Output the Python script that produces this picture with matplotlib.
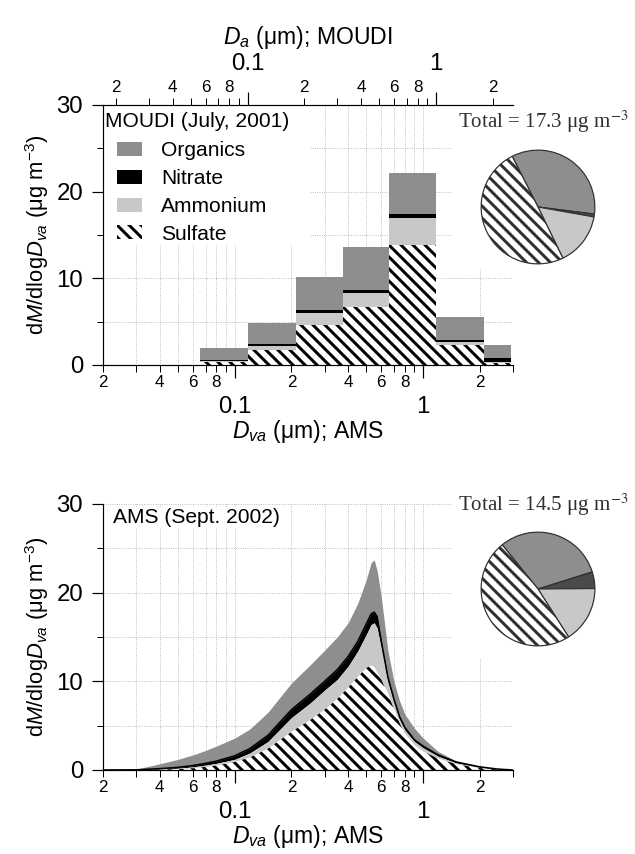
import numpy as np
import matplotlib
matplotlib.use("Agg")
import matplotlib.pyplot as plt
from matplotlib.patches import Patch, Rectangle
from matplotlib.ticker import FixedLocator, FuncFormatter

plt.rcParams['font.family'] = ['Liberation Sans', 'DejaVu Sans']
plt.rcParams['mathtext.fontset'] = 'custom'
plt.rcParams['mathtext.rm'] = 'Liberation Sans'
plt.rcParams['mathtext.it'] = 'Liberation Sans:italic'
plt.rcParams['hatch.linewidth'] = 3.0
plt.rcParams['axes.linewidth'] = 1.2

species = ['Organics', 'Nitrate', 'Ammonium', 'Sulfate']
c_org = '#8e8e8e'
c_nit = 'black'
c_amm = '#c8c8c8'
c_pie_nit = '#4a4a4a'
hatch_sulf = '\\\\'

# MOUDI stage cut sizes (Da, um), shifted to Dva with a constant factor
moudi_cuts_da = [0.056, 0.1, 0.18, 0.32, 0.56, 1.0, 1.8, 2.5]
da_to_dva = 1.17
moudi_sulfate = [0.3, 1.7, 4.6, 6.7, 13.8, 2.3, 0.2]
moudi_ammonium = [0.2, 0.5, 1.4, 1.6, 3.2, 0.3, 0.15]
moudi_nitrate = [0.05, 0.2, 0.35, 0.3, 0.4, 0.3, 0.45]
moudi_organics = [1.45, 2.4, 3.85, 5.0, 4.8, 2.6, 1.5]
moudi_pie = [34.5, 0.8, 15.0, 49.7]   # organics, nitrate, ammonium, sulfate (%)
moudi_total = 17.3

# AMS mass distributions, dM/dlogDva (ug m-3)
ams_dva = [0.02, 0.03, 0.04, 0.05, 0.06, 0.07, 0.08, 0.10, 0.12, 0.15, 0.20,
           0.25, 0.30, 0.35, 0.40, 0.45, 0.50, 0.53, 0.55, 0.57, 0.60, 0.65,
           0.70, 0.75, 0.80, 0.90, 1.00, 1.20, 1.50, 2.00, 2.50, 3.00]
ams_sulfate = [0, 0, 0.05, 0.1, 0.2, 0.35, 0.5, 0.9, 1.4, 2.4, 4.3,
               5.6, 6.8, 8.0, 9.3, 10.5, 11.5, 11.8, 11.6, 11.0, 10.2, 8.6,
               6.9, 5.3, 4.1, 2.8, 2.1, 1.3, 0.65, 0.22, 0.05, 0]
ams_ammonium = [0, 0.01, 0.05, 0.1, 0.15, 0.2, 0.25, 0.3, 0.5, 0.8, 1.6,
                1.9, 2.2, 2.2, 2.4, 2.9, 3.8, 4.6, 5.0, 5.0, 3.6, 1.4,
                0.7, 0.4, 0.4, 0.4, 0.4, 0.25, 0.15, 0.08, 0.02, 0]
ams_nitrate = [0, 0.01, 0.05, 0.1, 0.15, 0.2, 0.25, 0.4, 0.5, 0.7, 0.9,
               1.0, 1.0, 1.1, 1.1, 1.1, 1.2, 1.2, 1.2, 1.3, 0.7, 0.5,
               0.4, 0.3, 0.3, 0.2, 0.2, 0.15, 0.1, 0.05, 0.03, 0]
ams_organics = [0, 0.08, 0.55, 0.9, 1.2, 1.45, 1.7, 2.0, 2.2, 2.6, 3.0,
                3.3, 3.5, 3.7, 3.8, 4.3, 5.0, 5.8, 5.9, 5.2, 5.0, 3.0,
                2.0, 1.8, 1.5, 1.3, 0.9, 0.4, 0.1, 0.05, 0, 0]
ams_pie = [31.0, 4.7, 16.1, 48.2]
ams_total = 14.5

W, H = 635, 854
fig = plt.figure(figsize=(W / 72, H / 72), dpi=72)


def px_axes(left, top, right, bottom):
    return fig.add_axes([left / W, 1 - bottom / H, (right - left) / W, (bottom - top) / H])


def minor_label(v, pos=None):
    d = int(round(v / 10 ** np.floor(np.log10(v) + 1e-9)))
    return str(d) if d in (2, 4, 6, 8) else ''


def log_ticks(ax_x, lo, hi):
    minors = [k * 10.0 ** e for e in (-2, -1, 0) for k in range(2, 10)]
    minors = [m for m in minors if lo * 0.999 <= m <= hi * 1.001]
    ax_x.set_major_locator(FixedLocator([0.1, 1]))
    ax_x.set_major_formatter(FuncFormatter(lambda v, p: f'{v:g}'))
    ax_x.set_minor_locator(FixedLocator(minors))
    ax_x.set_minor_formatter(FuncFormatter(minor_label))


def style_panel(ax):
    ax.set_xscale('log')
    ax.set_xlim(0.02, 3.0)
    ax.set_ylim(0, 30)
    log_ticks(ax.xaxis, 0.02, 3.0)
    ax.set_yticks([0, 10, 20, 30])
    ax.set_yticks([5, 15, 25], minor=True)
    ax.set_axisbelow(True)
    ax.grid(True, which='both', color='#b5b5b5', linestyle=(0, (1, 1.5)), linewidth=0.9)
    for s in ('top', 'right'):
        ax.spines[s].set_visible(False)
    ax.tick_params(axis='x', which='major', direction='out', length=13, width=1.2, labelsize=24, pad=18)
    ax.tick_params(axis='x', which='minor', direction='out', length=7, width=1.0, labelsize=17, pad=3)
    ax.tick_params(axis='y', which='major', direction='out', length=11, width=1.2, labelsize=24, pad=9)
    ax.tick_params(axis='y', which='minor', direction='out', length=6, width=1.0)
    ax.set_xlabel(r'$D_{va}$ (μm); AMS', fontsize=23, labelpad=0)
    ax.set_ylabel(r'd$M$/dlog$D_{va}$ (μg m$^{-3}$)', fontsize=22, labelpad=5)


def draw_pie(cx, cy, values, start):
    r = 58
    pax = px_axes(cx - r, cy - r, cx + r, cy + r)
    pax.pie(values, colors=[c_org, c_pie_nit, c_amm, 'white'], startangle=start,
            counterclock=False, hatch=['', '', '', hatch_sulf],
            wedgeprops=dict(edgecolor='#303030', linewidth=1.2))
    pax.set_xlim(-1.02, 1.02)
    pax.set_ylim(-1.02, 1.02)
    pax.set_aspect('equal')


def mask(ax, x0, y0, x1, y1):
    # opaque white block that hides the grid behind annotations
    ax.add_patch(Rectangle((x0, y0), x1 - x0, y1 - y0, transform=ax.transAxes,
                           facecolor='white', edgecolor='none', zorder=1))


# ---- top panel: MOUDI stages
ax1 = px_axes(103, 105, 513, 365)
style_panel(ax1)

left = np.array(moudi_cuts_da[:-1]) * da_to_dva
right = np.array(moudi_cuts_da[1:]) * da_to_dva
width = right - left
b = np.zeros(len(left))
ax1.bar(left, moudi_sulfate, width, bottom=b, align='edge', facecolor='white',
        edgecolor='black', hatch=hatch_sulf, linewidth=0, zorder=2)
b += moudi_sulfate
ax1.bar(left, moudi_ammonium, width, bottom=b, align='edge', color=c_amm, linewidth=0, zorder=2)
b += moudi_ammonium
ax1.bar(left, moudi_nitrate, width, bottom=b, align='edge', color=c_nit, linewidth=0, zorder=2)
b += moudi_nitrate
ax1.bar(left, moudi_organics, width, bottom=b, align='edge', color=c_org, linewidth=0, zorder=2)

mask(ax1, 0, 14 / 30, 0.505, 1)
mask(ax1, 0.851, 0.37, 1, 1)

ax1.text(0.005, 0.935, 'MOUDI (July, 2001)', transform=ax1.transAxes, fontsize=21,
         ha='left', va='center', zorder=3)
handles = [Patch(facecolor=c_org, linewidth=0), Patch(facecolor=c_nit, linewidth=0),
           Patch(facecolor=c_amm, linewidth=0),
           Patch(facecolor='white', edgecolor='black', hatch=hatch_sulf, linewidth=0)]
ax1.legend(handles, species, loc='upper left', bbox_to_anchor=(0.035, 0.86),
           frameon=False, fontsize=21, borderpad=0, borderaxespad=0,
           handlelength=1.15, handleheight=0.65, handletextpad=0.95, labelspacing=0.42)

top = ax1.secondary_xaxis('top', functions=(lambda d: d / da_to_dva, lambda d: d * da_to_dva))
top.set_zorder(5)
log_ticks(top.xaxis, 0.02 / da_to_dva, 3.0 / da_to_dva)
top.tick_params(axis='x', which='major', direction='out', length=13, width=1.2, labelsize=24, pad=17)
top.tick_params(axis='x', which='minor', direction='out', length=7, width=1.0, labelsize=17, pad=3)
top.spines['top'].set_linewidth(1.2)
top.set_xlabel(r'$D_a$ (μm); MOUDI', fontsize=23, labelpad=9)

fig.text(543 / W, 1 - 122 / H, f'Total = {moudi_total} μg m$^{{-3}}$', ha='center', va='center',
         family='Liberation Serif', math_fontfamily='stix', fontsize=21, color='#303030')
draw_pie(538, 207, moudi_pie, 117)

# ---- bottom panel: AMS
ax2 = px_axes(103, 504, 513, 770)
style_panel(ax2)

s = np.array(ams_sulfate)
a = s + np.array(ams_ammonium)
n = a + np.array(ams_nitrate)
t = n + np.array(ams_organics)
ax2.fill_between(ams_dva, n, t, color=c_org, linewidth=0, zorder=2)
ax2.fill_between(ams_dva, a, n, color=c_nit, linewidth=0, zorder=2)
ax2.fill_between(ams_dva, s, a, color=c_amm, linewidth=0, zorder=2)
ax2.fill_between(ams_dva, 0, s, facecolor='white', edgecolor='black', hatch=hatch_sulf,
                 linewidth=0, zorder=2)
ax2.plot(ams_dva, n, color='black', linewidth=1.6, zorder=3)

mask(ax2, 0.851, 12.5 / 30, 1, 1)
ax2.text(0.025, 0.95, 'AMS (Sept. 2002)', transform=ax2.transAxes, fontsize=21,
         ha='left', va='center', zorder=3,
         bbox=dict(facecolor='white', edgecolor='none', pad=1))

fig.text(543 / W, 1 - 505 / H, f'Total = {ams_total} μg m$^{{-3}}$', ha='center', va='center',
         family='Liberation Serif', math_fontfamily='stix', fontsize=21, color='#303030')
draw_pie(538, 589, ams_pie, 129)

fig.savefig('out.png', dpi=72)
